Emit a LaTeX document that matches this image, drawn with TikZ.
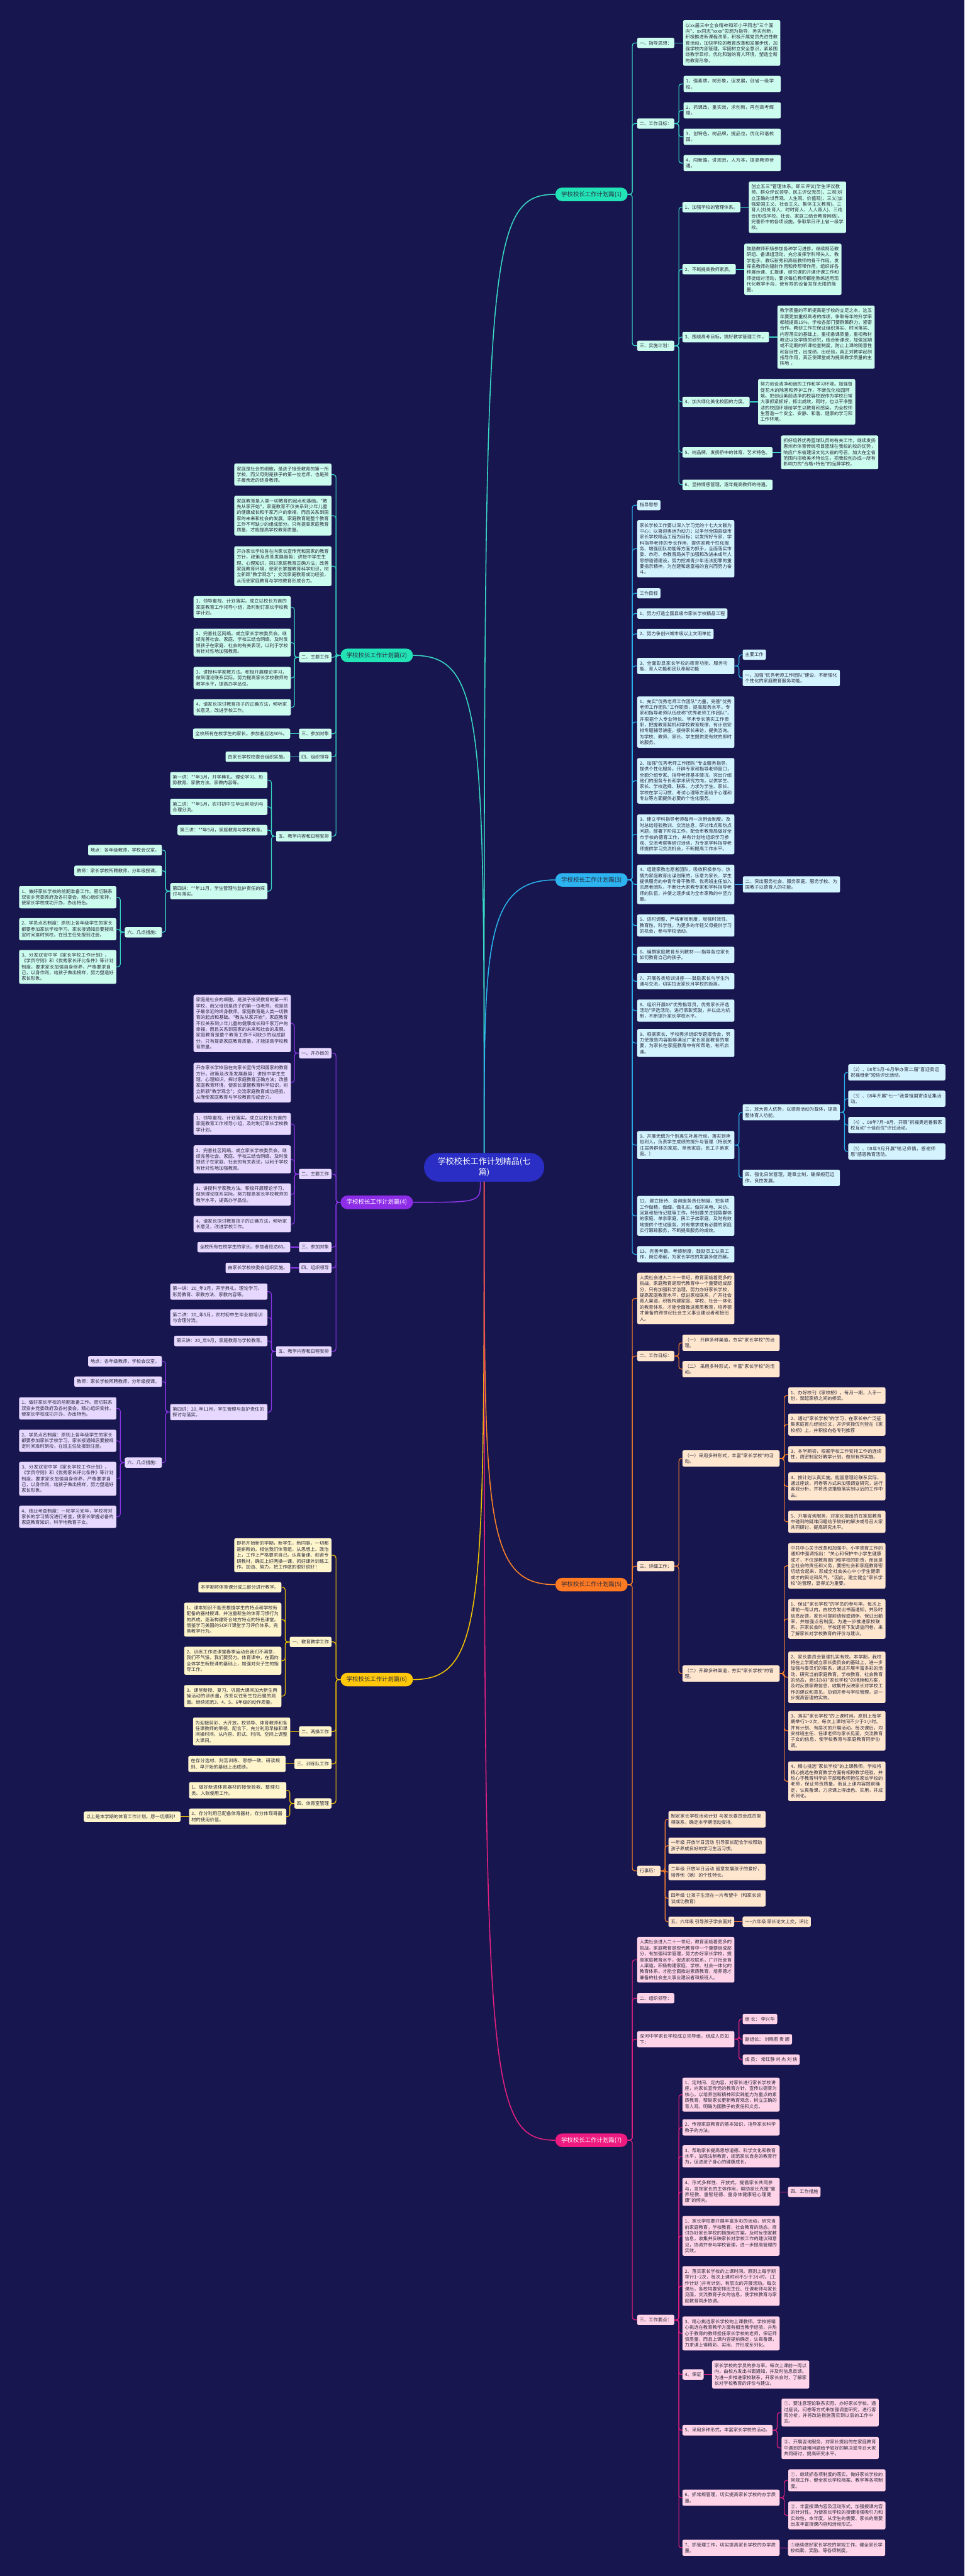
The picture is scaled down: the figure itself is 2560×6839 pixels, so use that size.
\documentclass[tikz,border=0pt]{standalone}
\usepackage{fontspec}
\newfontfamily\cjk{Noto Sans CJK SC}
\usetikzlibrary{positioning}
\XeTeXlinebreaklocale "zh"
\XeTeXlinebreakskip = 0pt plus 1pt
\definecolor{bgnavy}{HTML}{18164F}
\definecolor{rootblue}{HTML}{2A2EC4}
\definecolor{ink}{HTML}{2A2A3C}
\definecolor{mintM}{HTML}{22E3B6}
\definecolor{mintL}{HTML}{CCFCEE}
\definecolor{mintD}{HTML}{38D9C4}
\definecolor{cyanM}{HTML}{2CB3F0}
\definecolor{cyanL}{HTML}{D3F4FF}
\definecolor{cyanD}{HTML}{2AB4EE}
\definecolor{violM}{HTML}{8E2DE8}
\definecolor{violL}{HTML}{E6D8FF}
\definecolor{violD}{HTML}{8A35E6}
\definecolor{sunM}{HTML}{FFC80A}
\definecolor{sunL}{HTML}{FFF5CC}
\definecolor{sunD}{HTML}{F2C400}
\definecolor{tanM}{HTML}{FF7A22}
\definecolor{tanL}{HTML}{FFE6CF}
\definecolor{tanD}{HTML}{FF8328}
\definecolor{roseM}{HTML}{EE1A80}
\definecolor{roseL}{HTML}{FFD3E8}
\definecolor{roseD}{HTML}{E6217F}
\begin{document}
\begin{tikzpicture}[
  x=1pt, y=-1pt,
  font=\cjk\fontsize{12.2}{15.6}\selectfont,
  box/.style={rectangle, rounded corners=4pt, inner xsep=6.5pt, inner ysep=8pt, text=ink, align=left},
  leaf/.style={box, text width=245pt},
  main/.style={rectangle, rounded corners=18pt, minimum width=192pt, minimum height=36pt, inner sep=2pt,
               font=\cjk\fontsize{15.7}{19}\selectfont},
  root/.style={rectangle, rounded corners=38pt, fill=rootblue, text=white, minimum width=319pt,
               minimum height=76pt, align=center, font=\cjk\fontsize{21.7}{28}\selectfont},
  link/.style={line width=2pt, rounded corners=7pt},
  spoke/.style={line width=2.6pt}
]
\useasboundingbox (0,0) rectangle (2560,6839);
\fill[bgnavy] (0,0) rectangle (2560,6839);

\node[root] (root) at (1285,3099) {学校校长工作计划精品(七\\篇)};

% (1)
\begin{scope}[every node/.append style={fill=mintL}, link/.append style={draw=mintD}]
\node[main, fill=mintM, text=ink] (b1) at (1570,516) {学校校长工作计划篇(1)};
\node[box, anchor=west] (a1) at (1691,114) {一、指导思想：};
\node[leaf, right=23pt of a1] (a1t) {以xx届三中全会精神和邓小平同志"三个面向"、xx同志"xxxx"思想为指导，务实创新，积极推进新课程改革，积极开展党员先进性教育活动，加快学校的教育改革和发展步伐，加强学校内部管理，牢固树立安全意识，紧紧围绕教学目标，优化和谐的育人环境，塑造全新的教育形象。};
\node[box, anchor=west] (a2) at (1691,328) {二、工作目标：};
\node[leaf, anchor=west] (g1) at (1814,223) {1、强素质，树形象，促发展，创省一级学校。};
\node[leaf, anchor=west] (g2) at (1814,293) {2、抓课改，重实效，求创新，再创高考辉煌。};
\node[leaf, anchor=west] (g3) at (1814,363) {3、创特色，树品牌，提品位，优化和谐校园。};
\node[leaf, anchor=west] (g4) at (1814,433) {4、闯新路，讲规范，人为本，提高教师待遇。};
\node[box, anchor=west] (a3) at (1691,918) {三、实施计划：};
\node[box, anchor=west] (s1) at (1811,550) {1、加强学校的管理体系。};
\node[leaf, right=22pt of s1] (s1t) {创立五三"管理体系。即三评议(学生评议教师、群众评议领导、民主评议党员)、三观(树立正确的世界观、人生观、价值观)、三义(加强爱国主义、社会主义、集体主义教育)、三育人(处处育人、时时育人、人人育人)、三结合(形成学校、社会、家庭三结合教育网络)。完善侨中的各项设施，争取早日评上省一级学校。};
\node[box, anchor=west] (s2) at (1811,715) {2、不断提高教师素质。};
\node[leaf, right=22pt of s2] (s2t) {鼓励教师积极参加各种学习进修，继续规范教研组、备课组活动，充分发挥学科带头人、教学能手、教坛新秀和高级教师的骨干作用，发挥名教师的辐射作用和传帮带作用，组织好各种展示课、汇报课、研究课的开课评课工作和师徒结对活动，要求每位教师都能熟练运用现代化教学手段，使有限的设备发挥无限的能量。};
\node[box, anchor=west] (s3) at (1811,895) {3、围绕高考目标，搞好教学管理工作 。};
\node[leaf, right=22pt of s3] (s3t) {教学质量的不断提高是学校的立足之本，这五年要更加重视高考的成绩，争取每年的升学率都能提高15\%。学校各部门要群策群力，紧密合作。教研工作在保证组织落实、时间落实、内容落实的基础上，重视备课质量，重视教材教法以及学情的研究，结合新课改，加强定期或不定期的听课检查制度，防止上课的随意性和盲目性，出成绩、出经验，真正对教学起到指导作用，真正使课堂成为提高教学质量的主阵地 。};
\node[box, anchor=west] (s4) at (1811,1067) {4、加大绿化美化校园的力度。};
\node[leaf, right=22pt of s4] (s4t) {努力创设清净和谐的工作和学习环境。加强督促花木的除害和养护工作，不断优化校园环境。把创设美丽洁净的校容校貌作为学校日常大事抓紧抓好，抓出成效，同时，也以干净整洁的校园环境给学生以教育和感染，为全校师生营造一个安全、安静、和谐、健康的学习和工作环境。};
\node[box, anchor=west] (s5) at (1811,1201) {5、树品牌，发扬侨中的体育、艺术特色。};
\node[leaf, right=22pt of s5] (s5t) {抓好培养优秀篮球队员的有关工作，继续发扬惠州市体育传统项目篮球在我校的校的优势，响应广东省建设文化大省的号召，加大在全省范围内招收美术特长生，把我校创办成一所有影响力的"合格+特色"的品牌学校。};
\node[box, anchor=west] (s6) at (1811,1287) {6、坚持情感管理，逐年提高教师的待遇。};
\draw[link] (b1.east) -- ++(12,0) |- (a1.west);
\draw[link] (b1.east) -- ++(12,0) |- (a2.west);
\draw[link] (b1.east) -- ++(12,0) |- (a3.west);
\draw[link] (a1.east) -- (a1t.west);
\draw[link] (a2.east) -- ++(12,0) |- (g1.west);
\draw[link] (a2.east) -- ++(12,0) |- (g2.west);
\draw[link] (a2.east) -- ++(12,0) |- (g3.west);
\draw[link] (a2.east) -- ++(12,0) |- (g4.west);
\draw[link] (a3.east) -- ++(12,0) |- (s1.west);
\draw[link] (a3.east) -- ++(12,0) |- (s2.west);
\draw[link] (a3.east) -- ++(12,0) |- (s3.west);
\draw[link] (a3.east) -- ++(12,0) |- (s4.west);
\draw[link] (a3.east) -- ++(12,0) |- (s5.west);
\draw[link] (a3.east) -- ++(12,0) |- (s6.west);
\draw[link] (s1.east) -- (s1t.west);
\draw[link] (s2.east) -- (s2t.west);
\draw[link] (s3.east) -- (s3t.west);
\draw[link] (s4.east) -- (s4t.west);
\draw[link] (s5.east) -- (s5t.west);
\end{scope}

% (2)
\begin{scope}[every node/.append style={fill=mintL}, link/.append style={draw=mintD}]
\node[main, fill=mintM, text=ink] (b2) at (1000,1740) {学校校长工作计划篇(2)};
\node[leaf, anchor=east] (p1) at (880,1260) {家庭是社会的细胞，是孩子接受教育的第一所学校，而父母则是孩子的第一位老师，也是孩子最亲近的终身教师。};
\node[leaf, anchor=east] (p2) at (880,1369) {家庭教育是人类一切教育的起点和基础。"教先从家开始"，家庭教育不仅关系到少年儿童的健康成长和千家万户的幸福，而且关系到国家的未来和社会的发展。家庭教育是整个教育工作不可缺少的组成部分。只有提高家庭教育质量，才能提高学校教育质量。};
\node[leaf, anchor=east] (p3) at (880,1503) {开办家长学校旨在向家长宣传党和国家的教育方针，政策及改革发展趋势；讲授中学生生理、心理知识，探讨家庭教育正确方法；改善家庭教育环境，使家长掌握教育科学知识，树立新颖"教学观念"；交流家庭教育成功经验，从而使家庭教育与学校教育形成合力。};
\node[box, anchor=east] (p4) at (880,1745) {二、主要工作};
\node[leaf, anchor=east] (p4a) at (772,1612) {1、领导重视、计划落实。成立以校长为首的家庭教育工作领导小组，及时制订家长学校教学计划。};
\node[leaf, anchor=east] (p4b) at (772,1706) {2、完善社区网络。成立家长学校委员会。继续完善社会、家庭、学校三结合网络。及时反馈孩子在家庭、社会的有关表现，以利于学校有针对性地加强教育。};
\node[leaf, anchor=east] (p4c) at (772,1800) {3、讲授科学家教方法。积极开展理论学习，做到理论联系实际。努力提高家长学校教师的教学水平，提高办学品位。};
\node[leaf, anchor=east] (p4d) at (772,1878) {4、请家长探讨教育孩子的正确方法，倾听家长意见，改进学校工作。};
\node[box, anchor=east] (p5) at (880,1948) {三、参加对象};
\node[leaf, left=23pt of p5] (p5a) {全校所有在校学生的家长。参加者应达60\%。};
\node[box, anchor=east] (p6) at (880,2009) {四、组织领导};
\node[box, left=23pt of p6] (p6a) {由家长学校校委会组织实施。};
\node[box, anchor=east] (p7) at (880,2220) {五、教学内容和日程安排};
\node[leaf, anchor=east] (q1) at (710,2071) {第一讲：**年3月，开学典礼。理论学习、形势教育、家教方法、家教内容等。};
\node[leaf, anchor=east] (q2) at (710,2142) {第二讲：**年5月，农村初中生毕业前培训与合理分流。};
\node[box, anchor=east] (q3) at (710,2204) {第三讲：**年9月，家庭教育与学校教育。};
\node[leaf, anchor=east] (q4) at (710,2366) {第四讲：**年11月，学生管理与监护责任的探讨与落实。};
\node[box, anchor=east] (r1) at (430,2257) {地点：各年级教师，学校会议室。};
\node[box, anchor=east] (r2) at (430,2312) {教师：家长学校所聘教师，分年级授课。};
\node[box, anchor=east] (r3) at (430,2475) {六、几点措施：};
\node[leaf, anchor=east] (r3a) at (309,2382) {1、做好家长学校的前期准备工作。密切联系双安乡党委政府及各村委会，精心组织安排，使家长学校成功开办，办出特色。};
\node[leaf, anchor=east] (r3b) at (309,2467) {2、学员点名制度：原则上各年级学生的家长都要参加家长学校学习。家长接通知后要按规定时间准时到校，在班主任处报到注册。};
\node[leaf, anchor=east] (r3c) at (309,2567) {3、分发双安中学《家长学校工作计划》、《学员守则》和《优秀家长评比条件》等计划制度，要求家长加强自身修养，严格要求自己，以身作则，给孩子做出榜样，努力塑造好家长形象。};
\draw[link] (b2.west) -- ++(-12,0) |- (p1.east);
\draw[link] (b2.west) -- ++(-12,0) |- (p2.east);
\draw[link] (b2.west) -- ++(-12,0) |- (p3.east);
\draw[link] (b2.west) -- ++(-12,0) |- (p4.east);
\draw[link] (b2.west) -- ++(-12,0) |- (p5.east);
\draw[link] (b2.west) -- ++(-12,0) |- (p6.east);
\draw[link] (b2.west) -- ++(-12,0) |- (p7.east);
\draw[link] (p4.west) -- ++(-12,0) |- (p4a.east);
\draw[link] (p4.west) -- ++(-12,0) |- (p4b.east);
\draw[link] (p4.west) -- ++(-12,0) |- (p4c.east);
\draw[link] (p4.west) -- ++(-12,0) |- (p4d.east);
\draw[link] (p5.west) -- (p5a.east);
\draw[link] (p6.west) -- (p6a.east);
\draw[link] (p7.west) -- ++(-12,0) |- (q1.east);
\draw[link] (p7.west) -- ++(-12,0) |- (q2.east);
\draw[link] (p7.west) -- ++(-12,0) |- (q3.east);
\draw[link] (p7.west) -- ++(-12,0) |- (q4.east);
\draw[link] (q4.west) -- ++(-12,0) |- (r1.east);
\draw[link] (q4.west) -- ++(-12,0) |- (r2.east);
\draw[link] (q4.west) -- ++(-12,0) |- (r3.east);
\draw[link] (r3.west) -- ++(-12,0) |- (r3a.east);
\draw[link] (r3.west) -- ++(-12,0) |- (r3b.east);
\draw[link] (r3.west) -- ++(-12,0) |- (r3c.east);
\end{scope}

% (3)
\begin{scope}[every node/.append style={fill=cyanL}, link/.append style={draw=cyanD}]
\node[main, fill=cyanM, text=ink] (b3) at (1570,2336) {学校校长工作计划篇(3)};
\node[box, anchor=west] (c1) at (1691,1341) {指导思想};
\node[leaf, anchor=west] (c2) at (1691,1457) {家长学校工作要以深入学习党的十七大文献为中心；以喜迎奥运为动力；以争创全国县级市家长学校精品工程为目标；以发挥好专家、学科指导老师的专长作用，提供家教个性化服务、增强团队功能等方面为抓手，全面落实市委、市府、市教育局关于加强和改进未成年人思想道德建设，努力控减青少年违法犯罪的重要指示精神，为创建和谐富裕的宜兴而努力奋斗。};
\node[box, anchor=west] (c3) at (1691,1575) {工作目标};
\node[box, anchor=west] (c4) at (1691,1629) {1、努力打造全国县级市家长学校精品工程};
\node[box, anchor=west] (c5) at (1691,1683) {2、努力争创兴城市级以上文明单位};
\node[leaf, anchor=west] (c6) at (1691,1768) {3、全面彰显家长学校的德育功能、服务功能、育人功能和团队奉献功能};
\node[box, anchor=west] (c6a) at (1971,1738) {主要工作};
\node[leaf, anchor=west] (c6b) at (1971,1800) {一、加强"优秀老师工作团队"建设，不断强化个性化的家庭教育服务功能。};
\node[leaf, anchor=west] (c7) at (1691,1917) {1、充实"优秀老师工作团队"力量，完善"优秀老师工作团队"工作职责，提高服务水平。专家和指导老师队伍统称"优秀老师工作团队"，并根据个人专业特长、学术专长落实工作责职，把握教育契机和学校教育规律，有计划安排专题辅导讲座，接待家长来访，提供咨询。为学校、教师、家长、学生提供更有效的即时的服务。};
\node[leaf, anchor=west] (c8) at (1691,2073) {2、加强"优秀老师工作团队"专业服务指导，提供个性化服务。开辟专家和指导老师窗口，全面介绍专家、指导老师基本情况，突出介绍他们的服务专长和学术研究方向，以供学生、家长、学校选择、联系。力求为学生、家长、学校在学习习惯、考试心理等方面给予心理和专业等方面提供必要的个性化服务。};
\node[leaf, anchor=west] (c9) at (1691,2215) {3、建立学科指导老师每月一次例会制度。及时总结经验教训、交流信息，研讨难点和热点问题，部署下阶段工作。配合市教育局做好全市学校的德育工作，并有计划地组织学习参观、交流考察等研讨活动，为专家学科指导老师提供学习交流机会，不断提高工作水平。};
\node[leaf, anchor=west] (c10) at (1691,2348) {4、组建家教志愿者团队。吸收积极参与、热情为家庭教育出谋划策的，乐意为家长、学生提供服务的中青年骨干教师、优秀班主任加入志愿者团队，不断壮大家教专家和学科指导老师的队伍，并使之逐步成为全市家教的中坚力量。};
\node[leaf, right=22pt of c10] (c10a) {二、突出服务社会、服务家庭、服务学校、为国教子以德育人的功能。};
\node[leaf, anchor=west] (c11) at (1691,2457) {5、适时调整、严格审核制度，增强时效性、教育性、科学性，为更多的年轻父母提供学习的机会，参与学校活动。};
\node[leaf, anchor=west] (c12) at (1691,2535) {6、编撰家庭教育系列教材——指导各位家长如何教育自己的孩子。};
\node[leaf, anchor=west] (c13) at (1691,2605) {7、开展各类培训讲座——鼓励家长与学生沟通与交流，切实拉近家长月学校的距离。};
\node[leaf, anchor=west] (c14) at (1691,2683) {8、组织开展08"优秀指导员，优秀家长评选活动"评选活动。进行表彰奖励，并以此为机制，不断提升家长学校水平。};
\node[leaf, anchor=west] (c15) at (1691,2769) {9、根据家长、学校需求组织专题报告会，努力使报告内容能够满足广家长家庭教育的需要，为家长在家庭教育中有所帮助，有所启迪。};
\node[leaf, anchor=west] (c16) at (1691,3040) {9、开展无偿为个别差生补差行动，落实到承包到人，负责学生成绩的提升与管理（特别关注弱势群体的家庭、单亲家庭，民工子弟家庭。）};
\node[leaf, anchor=west] (d1) at (1971,2953) {三、放大育人优势，以德育活动为载体，提高整体育人功能。};
\node[leaf, anchor=west] (d1a) at (2251,2847) {（2）、08年5月\textasciitilde 6月举办第二届"喜迎奥运 祝福母亲"短信评比活动。};
\node[leaf, anchor=west] (d1b) at (2251,2917) {（3）、08年开展"七一"我爱祖国寄语征集活动。};
\node[leaf, anchor=west] (d1c) at (2251,2987) {（4）、08年7月\textasciitilde 8月，开展"祝福奥运暑假家校互动"十佳百优"评比活动。};
\node[leaf, anchor=west] (d1d) at (2251,3057) {（5）、08年9月开展"铭记师情，感谢师恩"感恩教育活动。};
\node[leaf, anchor=west] (d2) at (1971,3127) {四、强化日常管理，建章立制，确保规范运作，良性发展。};
\node[leaf, anchor=west] (c17) at (1691,3228) {12、建立接待、咨询服务责任制度，把各项工作做精，做细，做扎实。做好来电、来访、回复和接待记载等工作，特别要关注弱势群体的家庭、单亲家庭，民工子弟家庭，及时有效地提供个性化服务，对有需求或有必要的家庭实行跟踪服务，不断提高服务的成效。};
\node[leaf, anchor=west] (c18) at (1691,3330) {13、完善考勤、考绩制度，鼓励员工认真工作，岗位奉献，为家长学校的发展多做贡献。};
\draw[link] (b3.east) -- ++(12,0) |- (c1.west);
\draw[link] (b3.east) -- ++(12,0) |- (c2.west);
\draw[link] (b3.east) -- ++(12,0) |- (c3.west);
\draw[link] (b3.east) -- ++(12,0) |- (c4.west);
\draw[link] (b3.east) -- ++(12,0) |- (c5.west);
\draw[link] (b3.east) -- ++(12,0) |- (c6.west);
\draw[link] (b3.east) -- ++(12,0) |- (c7.west);
\draw[link] (b3.east) -- ++(12,0) |- (c8.west);
\draw[link] (b3.east) -- ++(12,0) |- (c9.west);
\draw[link] (b3.east) -- ++(12,0) |- (c10.west);
\draw[link] (b3.east) -- ++(12,0) |- (c11.west);
\draw[link] (b3.east) -- ++(12,0) |- (c12.west);
\draw[link] (b3.east) -- ++(12,0) |- (c13.west);
\draw[link] (b3.east) -- ++(12,0) |- (c14.west);
\draw[link] (b3.east) -- ++(12,0) |- (c15.west);
\draw[link] (b3.east) -- ++(12,0) |- (c16.west);
\draw[link] (b3.east) -- ++(12,0) |- (c17.west);
\draw[link] (b3.east) -- ++(12,0) |- (c18.west);
\draw[link] (c6.east) -- ++(12,0) |- (c6a.west);
\draw[link] (c6.east) -- ++(12,0) |- (c6b.west);
\draw[link] (c10.east) -- (c10a.west);
\draw[link] (c16.east) -- ++(12,0) |- (d1.west);
\draw[link] (c16.east) -- ++(12,0) |- (d2.west);
\draw[link] (d1.east) -- ++(12,0) |- (d1a.west);
\draw[link] (d1.east) -- ++(12,0) |- (d1b.west);
\draw[link] (d1.east) -- ++(12,0) |- (d1c.west);
\draw[link] (d1.east) -- ++(12,0) |- (d1d.west);
\end{scope}

% (4)
\begin{scope}[every node/.append style={fill=violL}, link/.append style={draw=violD}]
\node[main, fill=violM, text=white] (b4) at (1000,3192) {学校校长工作计划篇(4)};
\node[box, anchor=east] (t1) at (880,2796) {一、开办目的};
\node[leaf, anchor=east] (t1a) at (772,2717) {家庭是社会的细胞，是孩子接受教育的第一所学校，而父母则是孩子的第一位老师，也是孩子最亲近的终身教师。家庭教育是人类一切教育的起点和基础。"教先从家开始"，家庭教育不仅关系到少年儿童的健康成长和千家万户的幸福，而且关系到国家的未来和社会的发展。家庭教育是整个教育工作不可缺少的组成部分。只有提高家庭教育质量，才能提高学校教育质量。};
\node[leaf, anchor=east] (t1b) at (772,2874) {开办家长学校旨在向家长宣传党和国家的教育方针，政策及改革发展趋势；讲授中学生生理、心理知识，探讨家庭教育正确方法；改善家庭教育环境，使家长掌握教育科学知识，树立新颖"教学观念"；交流家庭教育成功经验，从而使家庭教育与学校教育形成合力。};
\node[box, anchor=east] (t2) at (880,3117) {二、主要工作};
\node[leaf, anchor=east] (t2a) at (772,2984) {1、领导重视、计划落实。成立以校长为首的家庭教育工作领导小组，及时制订家长学校教学计划。};
\node[leaf, anchor=east] (t2b) at (772,3078) {2、完善社区网络。成立家长学校委员会。继续完善社会、家庭、学校三结合网络。及时反馈孩子在家庭、社会的有关表现，以利于学校有针对性地加强教育。};
\node[leaf, anchor=east] (t2c) at (772,3171) {3、讲授科学家教方法。积极开展理论学习，做到理论联系实际。努力提高家长学校教师的教学水平，提高办学品位。};
\node[leaf, anchor=east] (t2d) at (772,3250) {4、请家长探讨教育孩子的正确方法，倾听家长意见，改进学校工作。};
\node[box, anchor=east] (t3) at (880,3311) {三、参加对象};
\node[box, left=23pt of t3] (t3a) {全校所有在校学生的家长。参加者应达60。};
\node[box, anchor=east] (t4) at (880,3366) {四、组织领导};
\node[box, left=23pt of t4] (t4a) {由家长学校校委会组织实施。};
\node[box, anchor=east] (t5) at (880,3588) {五、教学内容和日程安排};
\node[leaf, anchor=east] (u1) at (710,3429) {第一讲：20\_年3月，开学典礼。理论学习、形势教育、家教方法、家教内容等。};
\node[leaf, anchor=east] (u2) at (710,3498) {第二讲：20\_年5月，农村初中生毕业前培训与合理分流。};
\node[box, anchor=east] (u3) at (710,3560) {第三讲：20\_年9月，家庭教育与学校教育。};
\node[leaf, anchor=east] (u4) at (710,3749) {第四讲：20\_年11月，学生管理与监护责任的探讨与落实。};
\node[box, anchor=east] (v1) at (430,3614) {地点：各年级教师，学校会议室。};
\node[box, anchor=east] (v2) at (430,3668) {教师：家长学校所聘教师，分年级授课。};
\node[box, anchor=east] (v3) at (430,3883) {六、几点措施：};
\node[leaf, anchor=east] (v3a) at (309,3739) {1、做好家长学校的前期准备工作。密切联系双安乡党委政府及各村委会，精心组织安排，使家长学校成功开办，办出特色。};
\node[leaf, anchor=east] (v3b) at (309,3825) {2、学员点名制度：原则上各年级学生的家长都要参加家长学校学习。家长接通知后要按规定时间准时到校，在班主任处报到注册。};
\node[leaf, anchor=east] (v3c) at (309,3926) {3、分发双安中学《家长学校工作计划》、《学员守则》和《优秀家长评比条件》等计划制度，要求家长加强自身修养，严格要求自己，以身作则，给孩子做出榜样，努力塑造好家长形象。};
\node[leaf, anchor=east] (v3d) at (309,4027) {4、结业考查制度：一轮学习完毕，学校将对家长的学习情况进行考查，使家长掌握必备的家庭教育知识，科学地教育子女。};
\draw[link] (b4.west) -- ++(-12,0) |- (t1.east);
\draw[link] (b4.west) -- ++(-12,0) |- (t2.east);
\draw[link] (b4.west) -- ++(-12,0) |- (t3.east);
\draw[link] (b4.west) -- ++(-12,0) |- (t4.east);
\draw[link] (b4.west) -- ++(-12,0) |- (t5.east);
\draw[link] (t1.west) -- ++(-12,0) |- (t1a.east);
\draw[link] (t1.west) -- ++(-12,0) |- (t1b.east);
\draw[link] (t2.west) -- ++(-12,0) |- (t2a.east);
\draw[link] (t2.west) -- ++(-12,0) |- (t2b.east);
\draw[link] (t2.west) -- ++(-12,0) |- (t2c.east);
\draw[link] (t2.west) -- ++(-12,0) |- (t2d.east);
\draw[link] (t3.west) -- (t3a.east);
\draw[link] (t4.west) -- (t4a.east);
\draw[link] (t5.west) -- ++(-12,0) |- (u1.east);
\draw[link] (t5.west) -- ++(-12,0) |- (u2.east);
\draw[link] (t5.west) -- ++(-12,0) |- (u3.east);
\draw[link] (t5.west) -- ++(-12,0) |- (u4.east);
\draw[link] (u4.west) -- ++(-12,0) |- (v1.east);
\draw[link] (u4.west) -- ++(-12,0) |- (v2.east);
\draw[link] (u4.west) -- ++(-12,0) |- (v3.east);
\draw[link] (v3.west) -- ++(-12,0) |- (v3a.east);
\draw[link] (v3.west) -- ++(-12,0) |- (v3b.east);
\draw[link] (v3.west) -- ++(-12,0) |- (v3c.east);
\draw[link] (v3.west) -- ++(-12,0) |- (v3d.east);
\end{scope}

% (5)
\begin{scope}[every node/.append style={fill=tanL}, link/.append style={draw=tanD}]
\node[main, fill=tanM, text=ink] (b5) at (1570,4207) {学校校长工作计划篇(5)};
\node[leaf, anchor=west] (e1) at (1691,3447) {人类社会进入二十一世纪，教育面临着更多的挑战。家庭教育是现代教育中一个重要组成部分，只有加强科学治理，努力办好家长学校，提高家庭教育水平，促进家校联系，广开社会育人渠道，积极构建家庭、学校、社会一体化的教育体系，才能全面推进素质教育，培养德才兼备的跨世纪社会主义事业建设者和接班人。};
\node[box, anchor=west] (e2) at (1691,3600) {二、工作目标：};
\node[leaf, anchor=west] (e2a) at (1811,3565) {（一） 开辟多种渠道，夯实"家长学校"的治理。};
\node[leaf, anchor=west] (e2b) at (1811,3635) {（二） 采用多种形式，丰富"家长学校"的活动。};
\node[box, anchor=west] (e3) at (1691,4158) {三、详细工作：};
\node[leaf, anchor=west] (f1) at (1811,3872) {（一）采用多种形式，丰富"家长学校"的活动。};
\node[leaf, anchor=west] (f1a) at (2092,3705) {1、办好校刊《家校桥》，每月一期，人手一份，架起家桥之间的桥梁。};
\node[leaf, anchor=west] (f1b) at (2092,3782) {2、通过"家长学校"的学习，在家长中广泛征集家庭育儿经验论文，并评奖择优刊登在《家校桥》上，并积极向各专刊推荐};
\node[leaf, anchor=west] (f1c) at (2092,3861) {3、本学期初，根据学校工作安排工作的连续性，周密制定好教学计划，做到有序实施。};
\node[leaf, anchor=west] (f1d) at (2092,3946) {4、按计划认真实施。能留意理论联系实际，通过座谈，问卷等方式来加强调查研究，进行客观分析，并将改进措施落实到以后的工作中去。};
\node[leaf, anchor=west] (f1e) at (2092,4040) {5、开展咨询服务，对家长提出的在家庭教育中碰到的疑难问题给予较好的解决或号召大家共同研讨，提高研究水平。};
\node[leaf, anchor=west] (f2) at (1811,4443) {（二）开辟多种渠道，夯实"家长学校"的管理。};
\node[leaf, anchor=west] (f2a) at (2092,4157) {中共中心关于改革和加强中、小学德育工作的通知中强调指出："关心和保护中小学生健康成才，不仅是教育部门和学校的职责，而且是全社会的责任和义务，要把社会和家庭教育密切结合起来，形成全社会关心中小学生健康成才的舆论和风气。"因此，建立健全"家长学校"的管理，显得尤为重要。};
\node[leaf, anchor=west] (f2b) at (2092,4298) {1、保证"家长学校"的学员的参与率。每次上课前一周以内，由校方发出书面通知，并及时信息反馈，家长可提前请假或调休，保证出勤率，并加强点名制度。为进一步推进家校联系，开家长会时，学校还将下发调查问卷，来了解家长对学校教育的评价与建议。};
\node[leaf, anchor=west] (f2c) at (2092,4453) {2、家长委员会管理扎实有效。本学期，我校将在上学期成立家长委员会的基础上，进一步加强与委员们的联系，通过开展丰富多彩的活动，研究当前家庭教育，学校教育，社会教育的动态，商讨办好"家长学校"的措施和方案，及时反馈家教信息，收集并反映家长对学校工作的建议和意见，协调并参与学校管理，进一步提高管理的实效。};
\node[leaf, anchor=west] (f2d) at (2092,4595) {3、落实"家长学校"的上课时间。原则上每学期举行1\textasciitilde 2次，每次上课时间不少于2小时。并有计划、有层次的开展活动。每次课后，均安排班主任、任课老师与家长见面，交流教育子女的信息，使学校教育与家庭教育同步协调。};
\node[leaf, anchor=west] (f2e) at (2092,4729) {4、精心挑选"家长学校"的上课教师。学校将精心挑选在教育教学方面有相称教学经验，并热心于教育科学的干部和教师担任家长学校的老师，保证师资质量，而且上课内容提前确定，认真备课，力求课上得出色、实用，并成系列化。};
\node[box, anchor=west] (e4) at (1691,4967) {行事历：};
\node[leaf, anchor=west] (h1) at (1774,4830) {制定家长学校活动计划 与家长委员会成员取得联系，确定本学期活动安排。};
\node[leaf, anchor=west] (h2) at (1774,4900) {一年级 开放半日活动 引导家长配合学校帮助孩子养成良好的学习生活习惯。};
\node[leaf, anchor=west] (h3) at (1774,4970) {二年级 开放半日活动 留意发展孩子的爱好，培养他（她）的个性特长。};
\node[leaf, anchor=west] (h4) at (1774,5040) {四年级 让孩子生活在一片希望中（和家长谈谈成功教育）};
\node[box, anchor=west] (h5) at (1774,5102) {五、六年级 引导孩子学会面对};
\node[box, right=22pt of h5] (h5a) {一\textasciitilde 六年级 家长论文上交，评比};
\draw[link] (b5.east) -- ++(12,0) |- (e1.west);
\draw[link] (b5.east) -- ++(12,0) |- (e2.west);
\draw[link] (b5.east) -- ++(12,0) |- (e3.west);
\draw[link] (b5.east) -- ++(12,0) |- (e4.west);
\draw[link] (e2.east) -- ++(12,0) |- (e2a.west);
\draw[link] (e2.east) -- ++(12,0) |- (e2b.west);
\draw[link] (e3.east) -- ++(12,0) |- (f1.west);
\draw[link] (e3.east) -- ++(12,0) |- (f2.west);
\draw[link] (f1.east) -- ++(12,0) |- (f1a.west);
\draw[link] (f1.east) -- ++(12,0) |- (f1b.west);
\draw[link] (f1.east) -- ++(12,0) |- (f1c.west);
\draw[link] (f1.east) -- ++(12,0) |- (f1d.west);
\draw[link] (f1.east) -- ++(12,0) |- (f1e.west);
\draw[link] (f2.east) -- ++(12,0) |- (f2a.west);
\draw[link] (f2.east) -- ++(12,0) |- (f2b.west);
\draw[link] (f2.east) -- ++(12,0) |- (f2c.west);
\draw[link] (f2.east) -- ++(12,0) |- (f2d.west);
\draw[link] (f2.east) -- ++(12,0) |- (f2e.west);
\draw[link] (e4.east) -- ++(12,0) |- (h1.west);
\draw[link] (e4.east) -- ++(12,0) |- (h2.west);
\draw[link] (e4.east) -- ++(12,0) |- (h3.west);
\draw[link] (e4.east) -- ++(12,0) |- (h4.west);
\draw[link] (e4.east) -- ++(12,0) |- (h5.west);
\draw[link] (h5.east) -- (h5a.west);
\end{scope}

% (6)
\begin{scope}[every node/.append style={fill=sunL}, link/.append style={draw=sunD}]
\node[main, fill=sunM, text=ink] (b6) at (1000,4459) {学校校长工作计划篇(6)};
\node[leaf, anchor=east] (w1) at (880,4129) {即将开始新的学期，新学生，新同事，一切都是崭新的。相信我们体育组，从思想上、政治上，工作上严格要求自己。认真备课、刻苦专研教材，确实上好两操一课，抓好课外训练工作。加油、努力，把工作做的很好很好！};
\node[box, anchor=east] (w2) at (880,4359) {一、教育教学工作};
\node[box, anchor=east] (w2a) at (747,4214) {本学期将体育课分成三部分进行教学。};
\node[leaf, anchor=east] (w2b) at (747,4300) {1、课本知识不能丢根据学生的特点和学校新配备的器材授课，并注重新生的体育习惯行为的养成。逐渐构建符合地方特点的特色课堂。借鉴学习美国的SOFIT课堂学习评价体系，完善教学行为。};
\node[leaf, anchor=east] (w2c) at (747,4409) {2、训练工作进课堂春季运动会我们不满意，我们不气馁，我们要努力。体育课中，在面向全体学生新授课的基础上，加强对尖子生的指导工作。};
\node[leaf, anchor=east] (w2d) at (747,4503) {3、课堂新授、复习、巩固大课间加大新生两操活动的训练量，改变以往新生拉后腿的局面。继续规范3、4、5、6年级的动作质量。};
\node[box, anchor=east] (w3) at (880,4597) {二、两操工作};
\node[leaf, left=23pt of w3] (w3a) {为迎接剪彩、大开放。校领导、体育教师和各任课教师的带领、配合下，充分利用早操和课间操时间，从内容、形式、时间、空间上调整大课间。};
\node[box, anchor=east] (w4) at (880,4683) {三、训练队工作};
\node[leaf, left=23pt of w4] (w4a) {在存分选材、刻苦训练、思想一致、研读规则、早开始的基础上出成绩。};
\node[box, anchor=east] (w5) at (880,4788) {四、体育室管理};
\node[leaf, anchor=east] (w5a) at (760,4753) {1、做好新进体育器材的接受验收、整理归类、入账使用工作。};
\node[leaf, anchor=east] (w5b) at (760,4823) {2、存分利用已配备体育器材。存分体现哥器材的使用价值。};
\node[box, left=22pt of w5b] (w5c) {以上是本学期的体育工作计划。愿一切顺利！};
\draw[link] (b6.west) -- ++(-12,0) |- (w1.east);
\draw[link] (b6.west) -- ++(-12,0) |- (w2.east);
\draw[link] (b6.west) -- ++(-12,0) |- (w3.east);
\draw[link] (b6.west) -- ++(-12,0) |- (w4.east);
\draw[link] (b6.west) -- ++(-12,0) |- (w5.east);
\draw[link] (w2.west) -- ++(-12,0) |- (w2a.east);
\draw[link] (w2.west) -- ++(-12,0) |- (w2b.east);
\draw[link] (w2.west) -- ++(-12,0) |- (w2c.east);
\draw[link] (w2.west) -- ++(-12,0) |- (w2d.east);
\draw[link] (w3.west) -- (w3a.east);
\draw[link] (w4.west) -- (w4a.east);
\draw[link] (w5.west) -- ++(-12,0) |- (w5a.east);
\draw[link] (w5.west) -- ++(-12,0) |- (w5b.east);
\draw[link] (w5b.west) -- (w5c.east);
\end{scope}

% (7)
\begin{scope}[every node/.append style={fill=roseL}, link/.append style={draw=roseD}]
\node[main, fill=roseM, text=white] (b7) at (1570,5682) {学校校长工作计划篇(7)};
\node[leaf, anchor=west] (k1) at (1691,5203) {人类社会进入二十一世纪，教育面临着更多的挑战。家庭教育是现代教育中一个重要组成部分，有加强科学管理，努力办好家长学校，提高家庭教育水平，促进家校联系，广开社会育人渠道，积极构建家庭、学校、社会一体化的教育体系，才能全面推进素质教育，培养德才兼备的社会主义事业建设者和接班人。};
\node[box, anchor=west] (k2) at (1691,5305) {二、组织领导：};
\node[leaf, anchor=west] (k3) at (1691,5414) {深河中学家长学校成立领导组，组成人员如下：};
\node[box, anchor=west] (k3a) at (1971,5360) {组 长： 李兴华};
\node[box, anchor=west] (k3b) at (1971,5414) {副组长： 刘晓君 贵 娜};
\node[box, anchor=west] (k3c) at (1971,5468) {成 员： 常红静 刘 杰 刘 侠};
\node[box, anchor=west] (k4) at (1691,6159) {三、工作要点：};
\node[leaf, anchor=west] (m1) at (1811,5561) {1、定时间、定内容，对家长进行家长学校讲座，向家长宣传党的教育方针，宣传以德育为核心，以培养创新精神和实践能力为重点的素质教育，帮助家长更新教育观念，树立正确的育人观，明确为国教子的责任和义务。};
\node[leaf, anchor=west] (m2) at (1811,5648) {2、传授家庭教育的基本知识，指导家长科学教子的方法。};
\node[leaf, anchor=west] (m3) at (1811,5725) {3、帮助家长提高思想道德、科学文化和教育水平，加强法制教育，规范家长自身的教育行为，促进孩子身心的健康成长。};
\node[leaf, anchor=west] (m4) at (1811,5819) {4、形式多样性、开放式，提倡家长共同参与，发挥家长的主体作用，帮助家长克服"重养轻教、重智轻德、重身体健康轻心理健康"的倾向。};
\node[box, right=22pt of m4] (m4a) {四、工作措施};
\node[leaf, anchor=west] (m5) at (1811,5936) {1、家长学校要开展丰富多彩的活动，研究当前家庭教育，学校教育，社会教育的动态，商讨办好家长学校的措施和方案，及时反馈家教信息，收集并反映家长对学校工作的建议和意见，协调并参与学校管理，进一步提高管理的实效。};
\node[leaf, anchor=west] (m6) at (1811,6069) {2、落实家长学校的上课时间。原则上每学期举行1\textasciitilde 2次，每次上课时间不少于2小时。(工作计划 )并有计划、有层次的开展活动。每次课后，各校均要安排班主任、任课老师与家长见面，交流教育子女的信息，使学校教育与家庭教育同步协调。};
\node[leaf, anchor=west] (m7) at (1811,6195) {3、精心挑选家长学校的上课教师。学校将精心挑选在教育教学方面有相当教学经验，并热心于教育的教师担任家长学校的老师，保证师资质量，而且上课内容提前确定，认真备课，力求课上得精彩、实用，并形成系列化。};
\node[box, anchor=west] (m8) at (1811,6304) {4、保证};
\node[leaf, right=22pt of m8] (m8a) {家长学校的学员的参与率。每次上课前一周以内，由校方发出书面通知，并及时信息反馈。为进一步推进家校联系，开家长会时，了解家长对学校教育的评价与建议。};
\node[box, anchor=west] (m9) at (1811,6452) {5、采用多种形式，丰富家长学校的活动。};
\node[leaf, anchor=west] (m9a) at (2074,6405) {①、要注意理论联系实际，办好家长学校。通过座谈，问卷等方式来加强调查研究，进行客观分析，并将改进措施落实到以后的工作中去。};
\node[leaf, anchor=west] (m9b) at (2074,6499) {②、开展咨询服务，对家长提出的在家庭教育中遇到的疑难问题给予较好的解决或号召大家共同研讨，提高研究水平。};
\node[leaf, anchor=west] (m10) at (1811,6631) {6、抓常规管理，切实提高家长学校的办学质量。};
\node[leaf, anchor=west] (m10a) at (2092,6585) {①、继续抓各项制度的落实。做好家长学校的常规工作，健全家长学校档案、教学等各项制度。};
\node[leaf, anchor=west] (m10b) at (2092,6678) {②、丰富授课内容及活动形式，加强授课内容的针对性。为使家长学校的授课增强吸引力和实效性，本年度，从学生的需要、家长的需要出发丰富授课内容和活动形式。};
\node[leaf, anchor=west] (m11) at (1811,6764) {7、抓管理工作，切实提高家长学校的办学质量。};
\node[leaf, right=22pt of m11] (m11a) {①继续做好家长学校的常规工作，健全家长学校档案、奖励、等各项制度。};
\draw[link] (b7.east) -- ++(12,0) |- (k1.west);
\draw[link] (b7.east) -- ++(12,0) |- (k2.west);
\draw[link] (b7.east) -- ++(12,0) |- (k3.west);
\draw[link] (b7.east) -- ++(12,0) |- (k4.west);
\draw[link] (k3.east) -- ++(12,0) |- (k3a.west);
\draw[link] (k3.east) -- ++(12,0) |- (k3b.west);
\draw[link] (k3.east) -- ++(12,0) |- (k3c.west);
\draw[link] (k4.east) -- ++(12,0) |- (m1.west);
\draw[link] (k4.east) -- ++(12,0) |- (m2.west);
\draw[link] (k4.east) -- ++(12,0) |- (m3.west);
\draw[link] (k4.east) -- ++(12,0) |- (m4.west);
\draw[link] (k4.east) -- ++(12,0) |- (m5.west);
\draw[link] (k4.east) -- ++(12,0) |- (m6.west);
\draw[link] (k4.east) -- ++(12,0) |- (m7.west);
\draw[link] (k4.east) -- ++(12,0) |- (m8.west);
\draw[link] (k4.east) -- ++(12,0) |- (m9.west);
\draw[link] (k4.east) -- ++(12,0) |- (m10.west);
\draw[link] (k4.east) -- ++(12,0) |- (m11.west);
\draw[link] (m4.east) -- (m4a.west);
\draw[link] (m8.east) -- (m8a.west);
\draw[link] (m9.east) -- ++(12,0) |- (m9a.west);
\draw[link] (m9.east) -- ++(12,0) |- (m9b.west);
\draw[link] (m10.east) -- ++(12,0) |- (m10a.west);
\draw[link] (m10.east) -- ++(12,0) |- (m10b.west);
\draw[link] (m11.east) -- (m11a.west);
\end{scope}

\draw[spoke, draw=mintD] (root.north) .. controls (1285,700) and (1285,516) .. (b1.west);
\draw[spoke, draw=mintD] (root.north) .. controls (1285,1920) and (1285,1740) .. (b2.east);
\draw[spoke, draw=cyanD] (root.north) .. controls (1285,2520) and (1285,2336) .. (b3.west);
\draw[spoke, draw=violD] ([xshift=-10pt]root.south) .. controls (1275,3192) .. (b4.east);
\draw[spoke, draw=tanD] (root.south) .. controls (1285,4020) and (1285,4207) .. (b5.west);
\draw[spoke, draw=sunD] (root.south) .. controls (1285,4270) and (1285,4459) .. (b6.east);
\draw[spoke, draw=roseD] (root.south) .. controls (1285,5495) and (1285,5682) .. (b7.west);
\end{tikzpicture}
\end{document}
